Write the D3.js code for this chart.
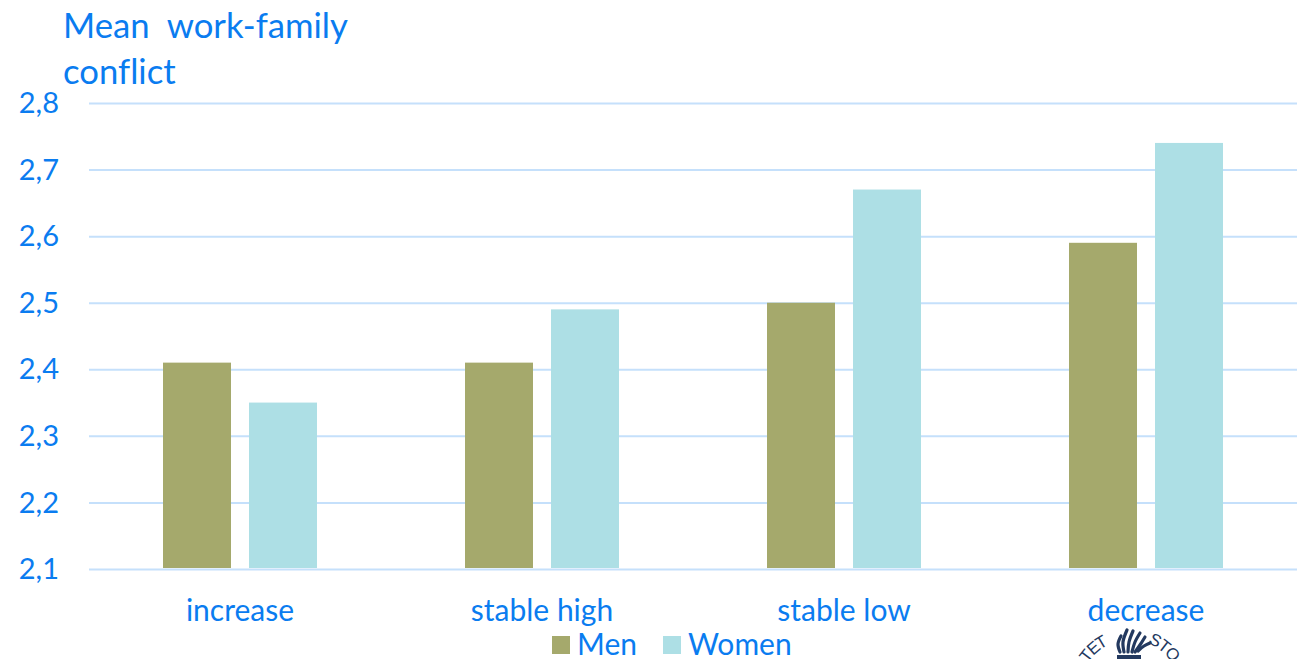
<!DOCTYPE html>
<html>
<head>
<meta charset="utf-8">
<script src="https://cdn.jsdelivr.net/npm/d3@7/dist/d3.min.js"></script>
<style>
  html, body { margin: 0; padding: 0; background: #fff; }
  svg { display: block; }
  text { font-family: Lato, "Open Sans", sans-serif; fill: #0a7cf0; font-variant-ligatures: none; }
</style>
</head>
<body>
<svg id="chart" width="1304" height="659"></svg>
<script>
const categories = ["increase", "stable high", "stable low", "decrease"];
const men = [2.41, 2.41, 2.5, 2.59];
const women = [2.35, 2.49, 2.67, 2.74];
const seriesNames = ["Men", "Women"];
const seriesColors = ["#a5a96c", "#addfe5"];
const yTicks = [2.1, 2.2, 2.3, 2.4, 2.5, 2.6, 2.7, 2.8];
const titleLines = ["Mean  work-family", "conflict"];

const svg = d3.select("#chart");
const plotLeft = 89, plotRight = 1297, plotTop = 103, plotBottom = 569;

const x = d3.scaleBand().domain(categories).range([plotLeft, plotRight]);
const xInner = d3.scaleBand().domain(seriesNames)
  .range([x.bandwidth() / 2 - 77, x.bandwidth() / 2 + 77]).paddingInner(18 / 86);
const y = d3.scaleLinear().domain([2.1, 2.8]).range([plotBottom, plotTop]);

// horizontal grid and value labels
const yAxis = d3.axisLeft(y).tickValues(yTicks).tickSize(0).tickPadding(0)
  .tickFormat(d => d3.format(".1f")(d).replace(".", ","));
const gy = svg.append("g").attr("transform", `translate(${plotLeft},0)`).call(yAxis);
gy.select(".domain").remove();
gy.selectAll(".tick line").attr("stroke", "#c5e0fb").attr("stroke-width", 2)
  .attr("x1", 0).attr("x2", plotRight - plotLeft);
gy.selectAll(".tick text").attr("x", -30).attr("text-anchor", "end").attr("dy", "0.33em")
  .style("font-size", "29px").attr("fill", null);

// one group of two bars per category
const groups = svg.append("g").selectAll("g").data(categories).join("g")
  .attr("transform", d => `translate(${x(d)},0)`);
groups.selectAll("rect")
  .data((d, i) => [
    { name: seriesNames[0], value: men[i] },
    { name: seriesNames[1], value: women[i] }
  ])
  .join("rect")
  .attr("x", d => xInner(d.name))
  .attr("width", xInner.bandwidth())
  .attr("y", d => y(d.value))
  .attr("height", d => y(2.1) - y(d.value) - 1)
  .attr("fill", (d, i) => seriesColors[i]);

// category labels
const xAxis = d3.axisBottom(x).tickSize(0).tickPadding(0);
const gx = svg.append("g").attr("transform", `translate(0,${plotBottom})`).call(xAxis);
gx.select(".domain").remove();
gx.selectAll(".tick text").attr("y", 52).attr("dy", 0).style("font-size", "30px").attr("fill", null);

// two-line heading
svg.append("g").selectAll("text").data(titleLines).join("text")
  .attr("x", 63).attr("y", (d, i) => 38 + i * 46)
  .style("font-size", "34.7px").style("white-space", "pre").attr("xml:space", "preserve")
  .text(d => d);

// legend
const legendSwatchX = [552, 663];
const legend = svg.append("g").selectAll("g").data(seriesNames).join("g")
  .attr("transform", (d, i) => `translate(${legendSwatchX[i]},636)`);
legend.append("rect").attr("width", 18).attr("height", 18).attr("fill", (d, i) => seriesColors[i]);
legend.append("text").attr("x", 25).attr("y", 19).style("font-size", "30px").text(d => d);

// university seal, cropped by the lower edge of the page
const seal = svg.append("g").attr("transform", "translate(1130,690)");
const sealLetters = [["T", -52], ["E", -41], ["T", -31], ["S", 27], ["T", 38], ["O", 50]];
seal.selectAll("text").data(sealLetters).join("text")
  .attr("transform", d => `rotate(${d[1]}) translate(0,-50)`)
  .attr("text-anchor", "middle")
  .style("font-size", "17px").style("font-family", "'Liberation Sans', sans-serif")
  .style("fill", "#23395f")
  .text(d => d[0]);
const tongue = d3.line().curve(d3.curveCatmullRom.alpha(0.5));
const flameTongues = [
  [[-10, -38], [-12, -46], [-9, -54]],
  [[-6, -38], [-7, -48], [-3, -60]],
  [[-2, -38], [-1, -48], [3, -59]],
  [[2, -38], [5, -48], [10, -57]],
  [[5, -38], [10, -45], [15, -53]],
  [[8, -39], [14, -44], [20, -47]]
];
seal.selectAll("path.tongue").data(flameTongues).join("path")
  .attr("class", "tongue")
  .attr("d", d => tongue(d))
  .attr("fill", "none").attr("stroke", "#23395f").attr("stroke-width", 3.2).attr("stroke-linecap", "round");
seal.append("rect").attr("x", -13).attr("y", -35).attr("width", 24).attr("height", 4).attr("fill", "#23395f");
</script>
</body>
</html>
